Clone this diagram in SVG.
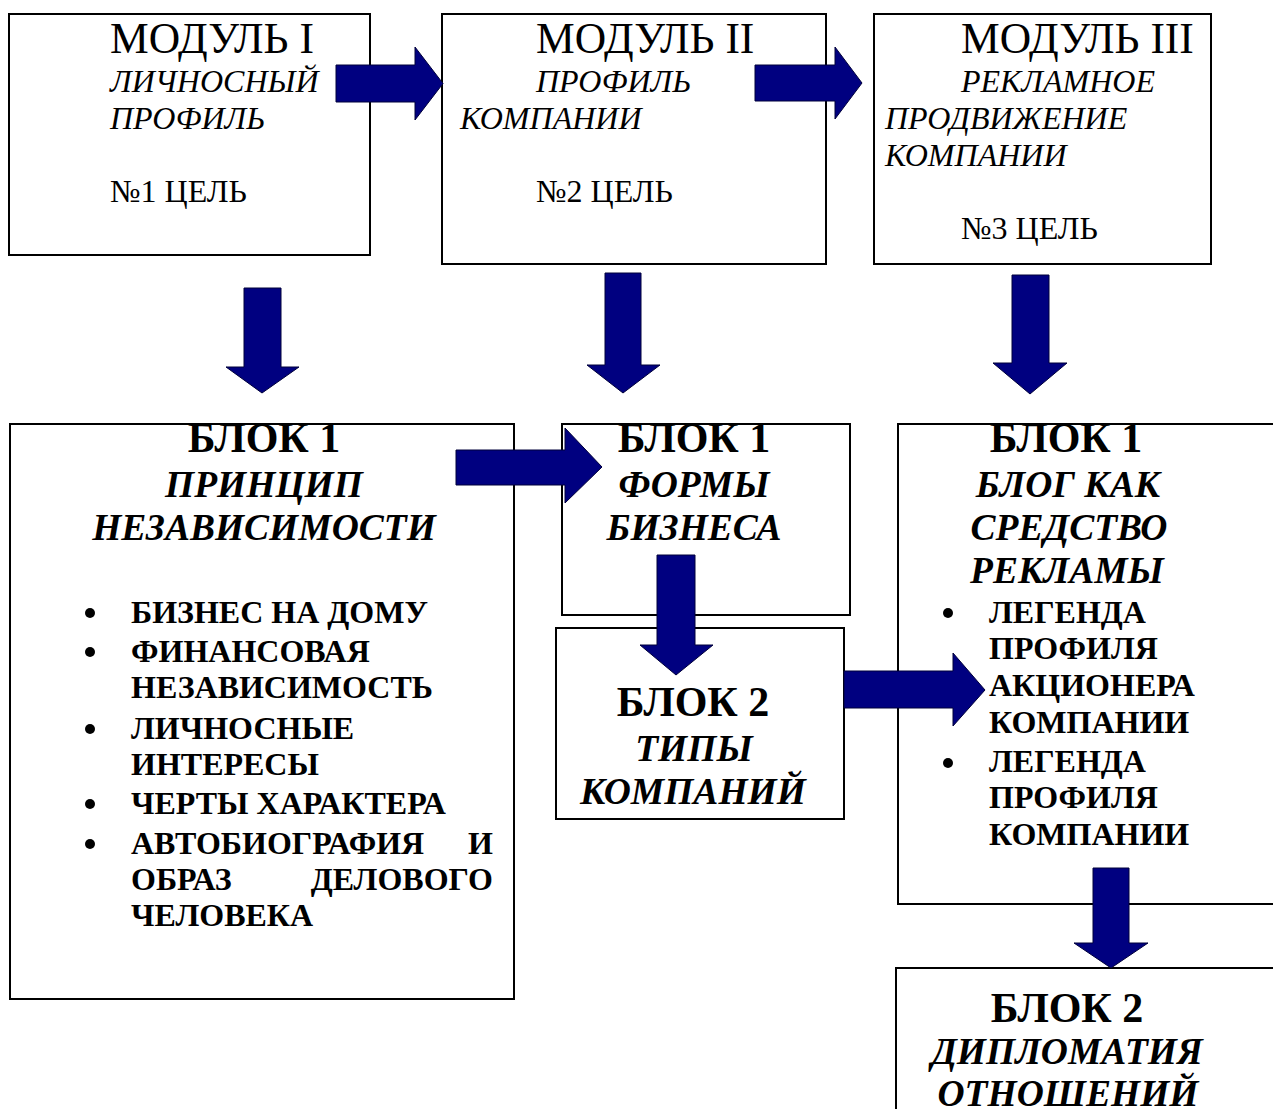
<svg xmlns="http://www.w3.org/2000/svg" width="1273" height="1109" viewBox="0 0 1273 1109">
<style>
text{font-family:"Liberation Serif","Times New Roman",serif;fill:#000}
.box{fill:#fff;stroke:#000;stroke-width:2}
.arr{fill:#000080;stroke:#00003a;stroke-width:1}
.t{font-size:43.5px}
.i{font-size:32px;font-style:italic}
.r{font-size:32px}
.bh{font-size:42px;font-weight:bold;text-anchor:middle}
.bi{font-size:37.5px;font-weight:bold;font-style:italic;text-anchor:middle}
.li{font-size:32px;font-weight:bold}
.bul{fill:#000}
</style>
<rect width="1273" height="1109" fill="#fff"/>
<g id="modul1">
<rect class="box" x="9" y="14" width="361" height="241"/>
<text class="t" x="110" y="53">МОДУЛЬ I</text>
<text class="i" x="110" y="92">ЛИЧНОСНЫЙ</text>
<text class="i" x="110" y="129">ПРОФИЛЬ</text>
<text class="r" x="110" y="202">№1 ЦЕЛЬ</text>
</g>
<g id="modul2">
<rect class="box" x="442" y="14" width="384" height="250"/>
<text class="t" x="536" y="53">МОДУЛЬ II</text>
<text class="i" x="536" y="92">ПРОФИЛЬ</text>
<text class="i" x="460" y="129">КОМПАНИИ</text>
<text class="r" x="536" y="202">№2 ЦЕЛЬ</text>
</g>
<g id="modul3">
<rect class="box" x="874" y="14" width="337" height="250"/>
<text class="t" x="961" y="53">МОДУЛЬ III</text>
<text class="i" x="961" y="92">РЕКЛАМНОЕ</text>
<text class="i" x="885" y="129">ПРОДВИЖЕНИЕ</text>
<text class="i" x="885" y="166">КОМПАНИИ</text>
<text class="r" x="961" y="239">№3 ЦЕЛЬ</text>
</g>
<g id="blok1-left">
<rect class="box" x="10" y="424" width="504" height="575"/>
<text class="bh" x="264" y="452">БЛОК 1</text>
<text class="bi" x="264" y="497">ПРИНЦИП</text>
<text class="bi" x="264" y="540">НЕЗАВИСИМОСТИ</text>
<circle class="bul" cx="90" cy="613" r="5"/>
<circle class="bul" cx="90" cy="652" r="5"/>
<circle class="bul" cx="90" cy="729" r="5"/>
<circle class="bul" cx="90" cy="804" r="5"/>
<circle class="bul" cx="90" cy="844" r="5"/>
<text class="li" x="131" y="623">БИЗНЕС НА ДОМУ</text>
<text class="li" x="131" y="662">ФИНАНСОВАЯ</text>
<text class="li" x="131" y="698">НЕЗАВИСИМОСТЬ</text>
<text class="li" x="131" y="739">ЛИЧНОСНЫЕ</text>
<text class="li" x="131" y="775">ИНТЕРЕСЫ</text>
<text class="li" x="131" y="814">ЧЕРТЫ ХАРАКТЕРА</text>
<text class="li" x="131" y="854">АВТОБИОГРАФИЯ</text>
<text class="li" x="493" y="854" text-anchor="end">И</text>
<text class="li" x="131" y="890">ОБРАЗ</text>
<text class="li" x="493" y="890" text-anchor="end">ДЕЛОВОГО</text>
<text class="li" x="131" y="926">ЧЕЛОВЕКА</text>
</g>
<g id="blok1-mid">
<rect class="box" x="562" y="424" width="288" height="191"/>
<text class="bh" x="694" y="452">БЛОК 1</text>
<text class="bi" x="694" y="497">ФОРМЫ</text>
<text class="bi" x="694" y="540">БИЗНЕСА</text>
</g>
<g id="blok2-mid">
<rect class="box" x="556" y="628" width="288" height="191"/>
<text class="bh" x="693" y="716">БЛОК 2</text>
<text class="bi" x="694" y="761">ТИПЫ</text>
<text class="bi" x="693" y="804">КОМПАНИЙ</text>
</g>
<g id="blok1-right">
<rect class="box" x="898" y="424" width="390" height="480"/>
<text class="bh" x="1066" y="452">БЛОК 1</text>
<text class="bi" x="1068" y="497">БЛОГ КАК</text>
<text class="bi" x="1069" y="540">СРЕДСТВО</text>
<text class="bi" x="1067" y="583">РЕКЛАМЫ</text>
<circle class="bul" cx="948" cy="613" r="5"/>
<circle class="bul" cx="948" cy="763" r="5"/>
<text class="li" x="989" y="623">ЛЕГЕНДА</text>
<text class="li" x="989" y="659">ПРОФИЛЯ</text>
<text class="li" x="989" y="696">АКЦИОНЕРА</text>
<text class="li" x="989" y="733">КОМПАНИИ</text>
<text class="li" x="989" y="772">ЛЕГЕНДА</text>
<text class="li" x="989" y="808">ПРОФИЛЯ</text>
<text class="li" x="989" y="845">КОМПАНИИ</text>
</g>
<g id="blok2-right">
<rect class="box" x="896" y="968" width="392" height="160"/>
<text class="bh" x="1067" y="1022">БЛОК 2</text>
<text class="bi" x="1067" y="1064">ДИПЛОМАТИЯ</text>
<text class="bi" x="1068" y="1106">ОТНОШЕНИЙ</text>
</g>
<g id="connectors">
<path class="arr" d="M336,65 H415 V47 L443,83.5 L415,120 V102 H336 Z"/>
<path class="arr" d="M755,65 H835 V47 L862,83 L835,119 V101 H755 Z"/>
<path class="arr" d="M244,288 V367 H226 L262,393 L299,367 H281 V288 Z"/>
<path class="arr" d="M605,273 V365 H587 L623,393 L660,365 H641 V273 Z"/>
<path class="arr" d="M1012,275 V363 H993 L1030,394 L1067,363 H1049 V275 Z"/>
<path class="arr" d="M456,450 H565 V428 L602,467 L565,503 V485 H456 Z"/>
<path class="arr" d="M657,555 V645 H640 L676,675 L713,645 H695 V555 Z"/>
<path class="arr" d="M844,671 H953 V653 L985,690 L953,726 V708 H844 Z"/>
<path class="arr" d="M1093,868 V943 H1074 L1111,968 L1148,943 H1129 V868 Z"/>
</g>
</svg>
